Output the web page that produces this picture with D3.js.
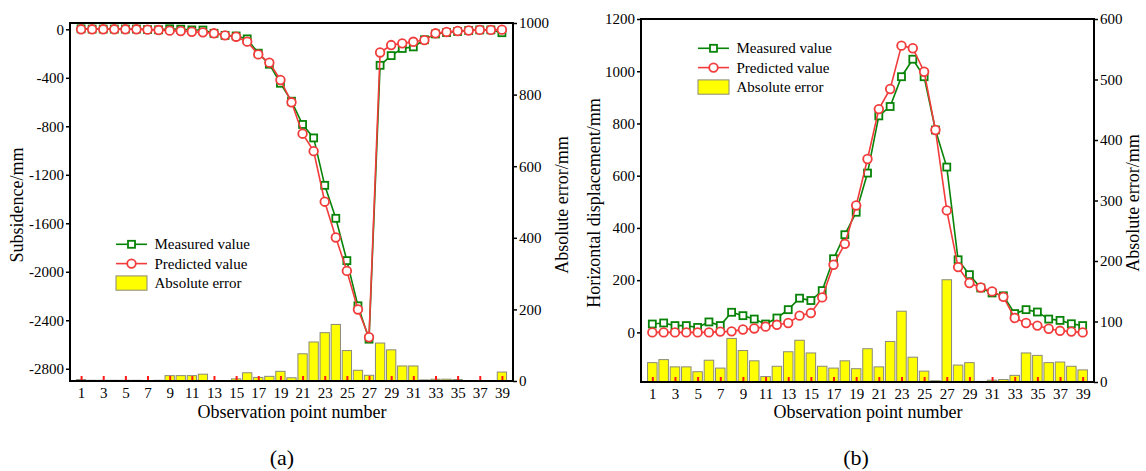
<!DOCTYPE html>
<html>
<head>
<meta charset="utf-8">
<script src="https://cdn.jsdelivr.net/npm/d3@7"></script>
<style>
  html, body { margin: 0; padding: 0; background: #fff; }
  svg text { font-family: "Liberation Serif", "Times New Roman", serif; fill: #000; }
</style>
</head>
<body>
<svg id="chart" width="1146" height="471"></svg>
<script>
// Observation points along the monitoring line
const pointNumbers = [1,2,3,4,5,6,7,8,9,10,11,12,13,14,15,16,17,18,19,20,
                      21,22,23,24,25,26,27,28,29,30,31,32,33,34,35,36,37,38,39];
const xTickLabels = [1,3,5,7,9,11,13,15,17,19,21,23,25,27,29,31,33,35,37,39];

// (a) Subsidence, mm
const subsidenceMeasured = [4,2,2,2,2,2,-2,-4,4,1,-5,-6,-33,-50,-55,-79,-197,-288,-445,-593,
                            -785,-896,-1287,-1559,-1908,-2281,-2556,-297,-217,-158,-145,-86,-38,-27,-18,-10,-5,-5,-28];
const subsidencePredicted = [0,0,0,0,0,0,-3,-6,-11,-14,-20,-25,-33,-50,-61,-102,-207,-275,-418,-602,
                             -861,-1005,-1422,-1717,-1993,-2311,-2540,-191,-130,-116,-103,-89,-33,-22,-14,-10,-5,-5,-3];
const subsidenceError = [4,2,2,2,2,2,1,2,15,15,15,19,0,0,6,23,10,13,27,9,
                         76,109,135,158,85,30,16,106,87,42,42,3,5,5,4,0,0,0,25];
const subsidenceTicks = [0,-400,-800,-1200,-1600,-2000,-2400,-2800];
const errorTicksA = [0,200,400,600,800,1000];

// (b) Horizontal displacement, mm
const displacementMeasured = [32,36,26,26,19,40,26,77,64,51,32,55,87,131,122,160,282,374,460,610,
                              829,865,979,1046,979,775,633,278,221,170,151,140,72,87,78,51,46,33,26];
const displacementPredicted = [0,0,0,0,0,0,3,4,11,15,22,29,36,64,74,134,259,339,486,664,
                               855,932,1098,1088,998,775,467,250,189,172,157,136,55,36,26,14,6,3,0];
const displacementError = [32,37,25,25,17,36,23,72,52,35,9,26,50,69,48,26,23,35,22,55,
                           25,67,117,41,18,2,169,28,32,1,3,4,11,48,44,32,33,26,20];
const displacementTicks = [0,200,400,600,800,1000,1200];
const errorTicksB = [0,100,200,300,400,500,600];

const legendLabels = ["Measured value", "Predicted value", "Absolute error"];

const GREEN = "#078307";
const RED = "#f23c3c";
const svg = d3.select("#chart");

function drawPanel(p) {
  const g = svg.append("g");
  const x = d3.scaleLinear().domain([0, 40]).range([p.left, p.right]);
  const yL = d3.scaleLinear().domain(p.leftDomain).range([p.bottom, p.top]);
  const yR = d3.scaleLinear().domain(p.rightDomain).range([p.bottom, p.top]);
  const bw = (x(1) - x(0)) * 0.84;

  // error bars on the right axis
  const barData = pointNumbers.map((n, i) => ({ n, v: p.error[i] })).filter(d => d.v > 0);
  g.append("g").selectAll("rect").data(barData).join("rect")
    .attr("x", d => x(d.n) - bw / 2)
    .attr("y", d => yR(d.v))
    .attr("width", bw)
    .attr("height", d => yR(0) - yR(d.v))
    .attr("fill", "#ffff00")
    .attr("stroke", "#8a8a7a")
    .attr("stroke-width", 1);

  // x axis with short red inward ticks
  const xAxis = g.append("g").attr("transform", `translate(0,${p.bottom})`)
    .call(d3.axisBottom(x).tickValues(xTickLabels).tickSize(-5).tickPadding(6).tickFormat(d => String(d)));
  xAxis.select(".domain").remove();
  xAxis.selectAll(".tick line").attr("stroke", "#ff1a1a").attr("stroke-width", 2);
  xAxis.selectAll("text").style("font-size", "15px");

  const left = g.append("g").attr("transform", `translate(${p.left},0)`)
    .call(d3.axisLeft(yL).tickValues(p.leftTicks).tickSize(4).tickPadding(2).tickFormat(d => String(d)));
  left.select(".domain").remove();
  left.selectAll(".tick line").attr("stroke", "#000").attr("stroke-width", 1.5);
  left.selectAll("text").style("font-size", "15px");

  const right = g.append("g").attr("transform", `translate(${p.right},0)`)
    .call(d3.axisRight(yR).tickValues(p.rightTicks).tickSize(4).tickPadding(2).tickFormat(d => String(d)));
  right.select(".domain").remove();
  right.selectAll(".tick line").attr("stroke", "#000").attr("stroke-width", 1.5);
  right.selectAll("text").style("font-size", "15px");

  // frame
  g.append("rect")
    .attr("x", p.left).attr("y", p.top)
    .attr("width", p.right - p.left).attr("height", p.bottom - p.top)
    .attr("fill", "none").attr("stroke", "#000").attr("stroke-width", 2);

  const line = d3.line().x((d, i) => x(pointNumbers[i])).y(d => yL(d));

  // measured series
  g.append("path").datum(p.measured).attr("d", line)
    .attr("fill", "none").attr("stroke", GREEN).attr("stroke-width", 1.6);
  g.append("g").selectAll("rect").data(p.measured).join("rect")
    .attr("x", (d, i) => x(pointNumbers[i]) - 3.5)
    .attr("y", d => yL(d) - 3.5)
    .attr("width", 7).attr("height", 7)
    .attr("fill", "#fff").attr("stroke", GREEN).attr("stroke-width", 1.8);

  // predicted series
  g.append("path").datum(p.predicted).attr("d", line)
    .attr("fill", "none").attr("stroke", RED).attr("stroke-width", 1.6);
  g.append("g").selectAll("circle").data(p.predicted).join("circle")
    .attr("cx", (d, i) => x(pointNumbers[i]))
    .attr("cy", d => yL(d))
    .attr("r", 4.3)
    .attr("fill", "#fff").attr("stroke", RED).attr("stroke-width", 1.8);

  // axis titles
  g.append("text")
    .attr("transform", `translate(${p.leftTitleX},${p.titleY}) rotate(-90)`)
    .attr("text-anchor", "middle").attr("dy", "0.35em")
    .style("font-size", "18px").text(p.leftTitle);
  g.append("text")
    .attr("transform", `translate(${p.rightTitleX},${p.titleY}) rotate(-90)`)
    .attr("text-anchor", "middle").attr("dy", "0.35em")
    .style("font-size", "18px").text("Absolute error/mm");
  g.append("text")
    .attr("x", p.xTitleX).attr("y", 418)
    .attr("text-anchor", "middle")
    .style("font-size", "18px").text("Observation point number");
  g.append("text")
    .attr("x", p.tagX).attr("y", 465)
    .attr("text-anchor", "middle")
    .style("font-size", "22px").text(p.tag);

  // legend
  const lg = g.append("g").attr("transform", `translate(${p.legendX},${p.legendY})`);
  const lw = 31, rowH = 19.3;
  lg.append("line").attr("x1", 0).attr("x2", lw).attr("y1", 0).attr("y2", 0)
    .attr("stroke", GREEN).attr("stroke-width", 1.6);
  lg.append("rect").attr("x", lw / 2 - 3.5).attr("y", -3.5).attr("width", 7).attr("height", 7)
    .attr("fill", "#fff").attr("stroke", GREEN).attr("stroke-width", 1.8);
  lg.append("line").attr("x1", 0).attr("x2", lw).attr("y1", rowH).attr("y2", rowH)
    .attr("stroke", RED).attr("stroke-width", 1.6);
  lg.append("circle").attr("cx", lw / 2).attr("cy", rowH).attr("r", 4.3)
    .attr("fill", "#fff").attr("stroke", RED).attr("stroke-width", 1.8);
  lg.append("rect").attr("x", 0).attr("y", 2 * rowH - 7).attr("width", lw).attr("height", 14.3)
    .attr("fill", "#ffff00").attr("stroke", "#8a8a7a").attr("stroke-width", 1);
  lg.selectAll("text.lab").data(legendLabels).join("text")
    .attr("x", lw + 7.5).attr("y", (d, i) => i * rowH + (i === 2 ? 0.3 : 0))
    .attr("dy", "0.33em")
    .style("font-size", "15px").text(d => d);
}

drawPanel({
  left: 70, right: 513, top: 23, bottom: 381,
  leftDomain: [-2901, 52], rightDomain: [0, 1000],
  leftTicks: subsidenceTicks, rightTicks: errorTicksA,
  measured: subsidenceMeasured, predicted: subsidencePredicted, error: subsidenceError,
  leftTitle: "Subsidence/mm", leftTitleX: 17, rightTitleX: 562, titleY: 205,
  xTitleX: 292, tag: "(a)", tagX: 282,
  legendX: 116, legendY: 244.3
});

drawPanel({
  left: 641, right: 1094, top: 19, bottom: 382,
  leftDomain: [-190, 1200], rightDomain: [0, 600],
  leftTicks: displacementTicks, rightTicks: errorTicksB,
  measured: displacementMeasured, predicted: displacementPredicted, error: displacementError,
  leftTitle: "Horizontal displacement/mm", leftTitleX: 594, rightTitleX: 1133, titleY: 203,
  xTitleX: 868, tag: "(b)", tagX: 856,
  legendX: 698, legendY: 48.3
});
</script>
</body>
</html>
